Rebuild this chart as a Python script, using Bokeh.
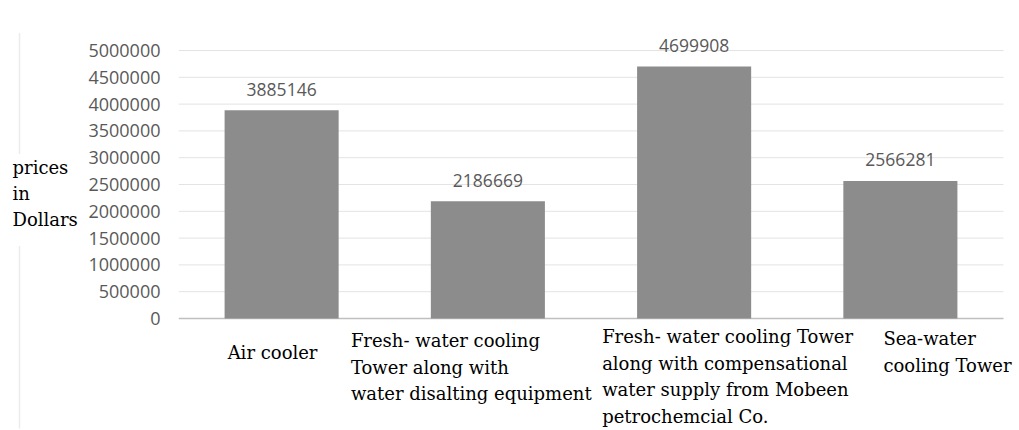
from bokeh.plotting import figure
from bokeh.layouts import row
from bokeh.models import Range1d, FixedTicker, ColumnDataSource
from bokeh.core.properties import value
from bokeh.embed import file_html
from bokeh.resources import INLINE

# ---- data ----
categories = ["Air cooler", "Fresh-water + desalting", "Fresh-water + Mobeen supply", "Sea-water"]
category_labels = [
    ["Air cooler"],
    ["Fresh- water cooling", "Tower along with", "water disalting equipment"],
    ["Fresh- water cooling Tower", "along with compensational", "water supply from Mobeen", "petrochemcial Co."],
    ["Sea-water", "cooling Tower"],
]
prices = [3885146, 2186669, 4699908, 2566281]
y_ticks = [0, 500000, 1000000, 1500000, 2000000, 2500000, 3000000, 3500000, 4000000, 4500000, 5000000]
y_title_lines = ["prices", "in", "Dollars"]

# ---- style / layout ----
serif = "DejaVu Serif"
sans = "Open Sans"
W, H = 1019, 430
title_w = 80                    # width of the left strip holding the y title
frame_left, frame_top = 178, 23 # frame edges in page pixels
axis_y = 318                    # page y of the value 0
px_per_unit = 268 / 5000000     # 5,000,000 spans 268 px
cat_px = 206.25                 # pixels per category
label_dx = [-54, -137, -92, -17]  # label left edge relative to bar centre (px)
label_dy = [34, 22, 18, 20]       # first line centre below axis (px)
line_h = 26.5

# ---- left strip: y title ----
pt = figure(width=title_w, height=H, x_range=Range1d(0, title_w), y_range=Range1d(H, 0),
            output_backend="svg", toolbar_location=None, x_axis_location=None, y_axis_location=None,
            min_border=0)
pt.outline_line_color = None
pt.grid.visible = False
pt.text(x=[12] * len(y_title_lines), y=[152 + 27.5 * i for i in range(len(y_title_lines))],
        text=y_title_lines, text_align="left", text_baseline="middle",
        text_font=value(serif), text_font_size="18px", text_color="#000000")
pt.segment(x0=[19, 19], y0=[10, 235], x1=[19, 19], y1=[138, 428], line_color="#ececec", line_width=1.5)

# ---- main chart ----
main_w = W - title_w
y_end = 5000000 + (50 - frame_top) / px_per_unit
y_start = -(H - axis_y) / px_per_unit
x_end = (W - frame_left) / cat_px

p = figure(width=main_w, height=H, x_range=Range1d(0, x_end), y_range=Range1d(y_start, y_end),
           output_backend="svg", toolbar_location=None, x_axis_location=None,
           min_border_left=frame_left - title_w, min_border_right=0, min_border_top=frame_top,
           min_border_bottom=0)
p.outline_line_color = None
p.grid.visible = False

n = len(categories)
xpos = [i + 0.5 for i in range(n)]

# grid lines and baseline (drawn from the tick list)
grid_vals = [t for t in y_ticks if t > 0]
p.segment(x0=[0] * len(grid_vals), x1=[n] * len(grid_vals), y0=grid_vals, y1=grid_vals,
          line_color="#e3e3e3", line_width=1)
p.segment(x0=[0], x1=[n], y0=[0], y1=[0], line_color="#bfbfbf", line_width=1.5)

src = ColumnDataSource(dict(x=xpos, price=prices, txt=[str(v) for v in prices]))
p.vbar(x="x", top="price", bottom=0, width=0.553, source=src, fill_color="#8c8c8c", line_color=None)
p.text(x="x", y="price", text="txt", source=src, text_align="center", text_baseline="middle",
       y_offset=-21, text_font=value(sans), text_font_size="17.5px", text_color="#595959")

p.yaxis.ticker = FixedTicker(ticks=y_ticks)
p.yaxis.axis_line_color = None
p.yaxis.major_tick_line_color = None
p.yaxis.minor_tick_line_color = None
p.yaxis.major_tick_out = 0
p.yaxis.major_tick_in = 0
p.yaxis.major_label_standoff = 18
p.yaxis.major_label_text_font = sans
p.yaxis.major_label_text_font_size = "18px"
p.yaxis.major_label_text_color = "#595959"
p.yaxis.formatter.use_scientific = False

for x, lines, dx, dy in zip(xpos, category_labels, label_dx, label_dy):
    p.text(x=[x] * len(lines), y=[0] * len(lines), text=lines,
           x_offset=dx, y_offset=[dy + i * line_h for i in range(len(lines))],
           text_align="left", text_baseline="middle", text_font=value(serif),
           text_font_size="18px", text_color="#000000")

open("out.html", "w").write(file_html(row(pt, p), INLINE))
